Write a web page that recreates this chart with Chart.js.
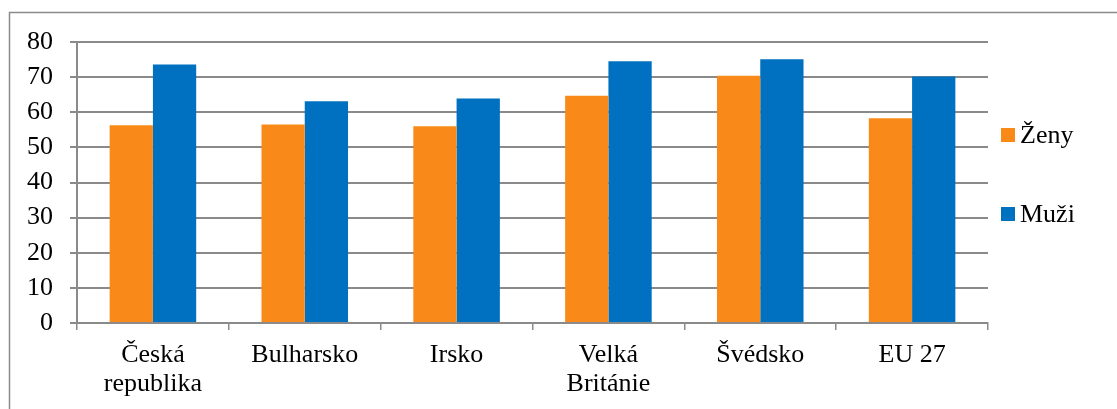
<!DOCTYPE html>
<html>
<head>
<meta charset="utf-8">
<script src="https://cdn.jsdelivr.net/npm/chart.js@4/dist/chart.umd.min.js"></script>
<style>
html,body{margin:0;padding:0;background:#fff;}
#wrap{position:relative;width:1117px;height:409px;}
</style>
</head>
<body>
<div id="wrap"><canvas id="c" width="1117" height="409"></canvas></div>
<script>
const categories = [["Česká", "republika"], "Bulharsko", "Irsko", ["Velká", "Británie"], "Švédsko", "EU 27"];
const seriesNames = ["Ženy", "Muži"];
const zenyValues = [56.3, 56.5, 56.0, 64.7, 70.4, 58.3];
const muziValues = [73.6, 63.1, 63.9, 74.5, 75.1, 70.2];
const yTicks = [0, 10, 20, 30, 40, 50, 60, 70, 80];
const colors = ["#F98A19", "#0070C0"];

const FONT = "'Liberation Serif', 'Times New Roman', serif";

const frame = {
  id: 'frame',
  beforeDraw(chart) {
    const ctx = chart.ctx;
    ctx.save();
    ctx.fillStyle = '#fff';
    ctx.fillRect(0, 0, chart.width, chart.height);
    ctx.strokeStyle = '#8a8a8a';
    ctx.lineWidth = 1.5;
    ctx.strokeRect(9.5, 12.5, 1200, 500);
    ctx.restore();
  }
};

const customLegend = {
  id: 'customLegend',
  afterDraw(chart) {
    const ctx = chart.ctx;
    ctx.save();
    const items = [{y: 128}, {y: 207}];
    chart.data.datasets.forEach((ds, i) => {
      const y = items[i].y;
      ctx.fillStyle = ds.backgroundColor;
      ctx.fillRect(1001, y, 14, 14);
      ctx.fillStyle = '#000';
      ctx.font = "26px " + FONT;
      ctx.textBaseline = 'alphabetic';
      ctx.textAlign = 'left';
      ctx.fillText(ds.label, 1020, y + 15);
    });
    ctx.restore();
  }
};

new Chart(document.getElementById('c'), {
  type: 'bar',
  data: {
    labels: categories,
    datasets: [
      { label: seriesNames[0], data: zenyValues, backgroundColor: colors[0] },
      { label: seriesNames[1], data: muziValues, backgroundColor: colors[1] }
    ]
  },
  options: {
    responsive: false,
    animation: false,
    devicePixelRatio: 1,
    layout: { padding: { left: 0, top: 42, right: 129, bottom: 0 } },
    plugins: { legend: { display: false }, tooltip: { enabled: false } },
    datasets: { bar: { barPercentage: 1.0, categoryPercentage: 0.57 } },
    scales: {
      x: {
        grid: { display: true, drawOnChartArea: false, drawTicks: true, tickLength: 7, offset: true, color: '#8a8a8a', lineWidth: 1.5 },
        border: { display: true, color: '#8a8a8a', width: 2 },
        ticks: { font: { family: FONT, size: 26, lineHeight: 1.1 }, color: '#000', padding: 11, maxRotation: 0, autoSkip: false },
        afterFit(s) { s.height = 86; }
      },
      y: {
        min: 0, max: 80,
        afterBuildTicks(s) { s.ticks = yTicks.map(v => ({ value: v })); },
        grid: { color: '#8a8a8a', lineWidth: 2, tickLength: 7, drawTicks: true },
        border: { display: true, color: '#8a8a8a', width: 2 },
        ticks: { font: { family: FONT, size: 26 }, color: '#000', padding: 17 },
        afterFit(s) { s.width = 77; }
      }
    }
  },
  plugins: [frame, customLegend]
});
</script>
</body>
</html>
